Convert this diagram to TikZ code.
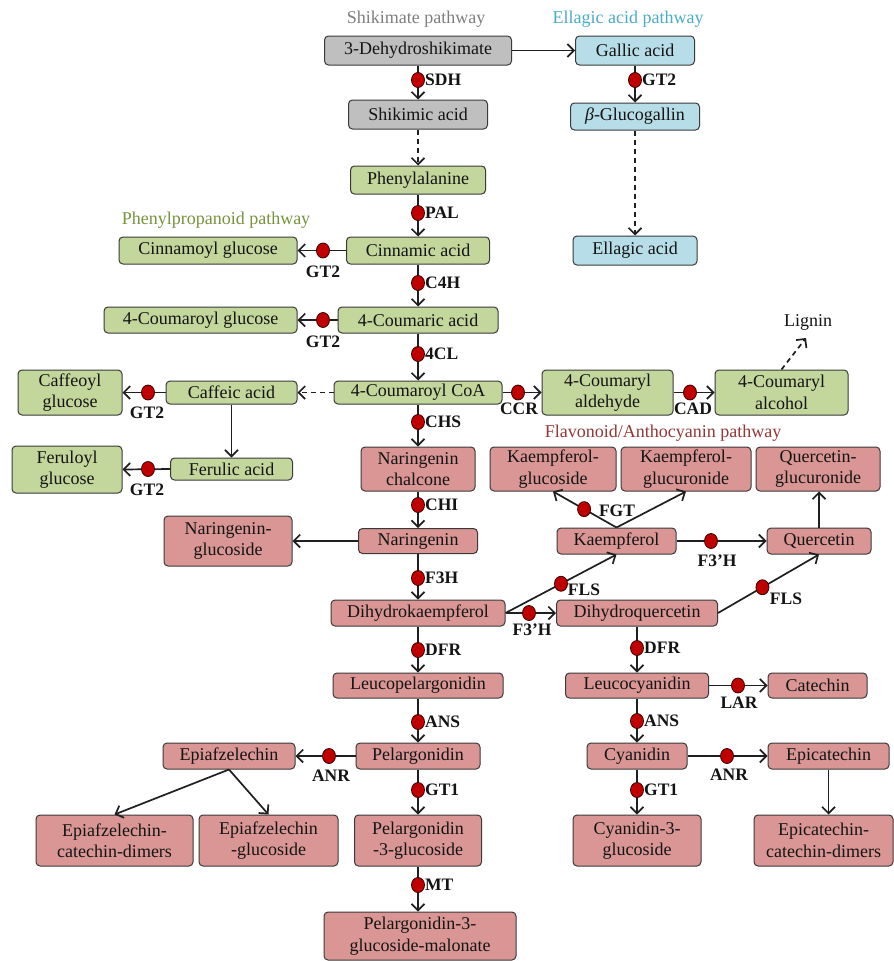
\documentclass[tikz,border=0pt]{standalone}
\usepackage{fontspec}
\setmainfont{Liberation Serif}
\usetikzlibrary{arrows.meta,shapes.geometric}
\definecolor{grayfill}{HTML}{BFBFBF}
\definecolor{bluefill}{HTML}{B7DEE8}
\definecolor{greenfill}{HTML}{C3D69B}
\definecolor{pinkfill}{HTML}{D99694}
\definecolor{boxline}{HTML}{3A3A3A}
\definecolor{titlegray}{HTML}{7F7F7F}
\definecolor{titleblue}{HTML}{4BACC6}
\definecolor{titlegreen}{HTML}{77933C}
\definecolor{titlered}{HTML}{953735}
\definecolor{dotred}{HTML}{C00000}
\definecolor{dotline}{HTML}{3A0000}
\begin{document}
\begin{tikzpicture}[x=1pt,y=-1pt,
  box/.style={draw=boxline, line width=1pt, rounded corners=4pt, inner sep=0pt, align=center,
    font=\fontsize{18}{21.5}\selectfont, text=black!92},
  gbox/.style={box, fill=grayfill},
  bbox/.style={box, fill=bluefill},
  grbox/.style={box, fill=greenfill},
  pbox/.style={box, fill=pinkfill},
  ttl/.style={font=\fontsize{18}{20}\selectfont, inner sep=0pt},
  lab/.style={font=\bfseries\fontsize{17.5}{18}\selectfont, inner sep=0pt, text=black!92},
  enz/.style={ellipse, draw=dotline, fill=dotred, line width=0.8pt, minimum width=13pt, minimum height=15pt, inner sep=0pt},
  arr/.style={line width=1.7pt, black!88, -{Straight Barb[length=6.5pt,width=13pt]}},
  darr/.style={arr, dash pattern=on 5pt off 4pt},
  ln/.style={line width=1.7pt, black!88}
]
\fill[white] (0,0) rectangle (894,961);
\useasboundingbox (0,0) rectangle (894,961);

% titles
\node[ttl, text=titlegray] (tshik) at (416,19) {Shikimate pathway};
\node[ttl, text=titleblue] (tella) at (628,19) {Ellagic acid pathway};
\node[ttl, text=titlegreen] (tphen) at (216,220) {Phenylpropanoid pathway};
\node[ttl, text=titlered] (tflav) at (663,433) {Flavonoid/Anthocyanin pathway};
\node[ttl, text=black!92] (lig) at (808,322) {Lignin};

% shikimate / ellagic
\node[gbox, minimum width=187pt, minimum height=29pt] (dhs) at (418,50.5) {3-Dehydroshikimate};
\node[gbox, minimum width=139pt, minimum height=29pt] (shik) at (418,114.5) {Shikimic acid};
\node[bbox, minimum width=119pt, minimum height=29pt] (gallic) at (635,50.5) {Gallic acid};
\node[bbox, minimum width=129pt, minimum height=27pt] (gluco) at (635,116.5) {\textit{β}-Glucogallin};
\node[bbox, minimum width=124pt, minimum height=29pt] (ellagic) at (635,250.5) {Ellagic acid};

% phenylpropanoid
\node[grbox, minimum width=135pt, minimum height=28pt] (phe) at (418,180) {Phenylalanine};
\node[grbox, minimum width=143pt, minimum height=27pt] (cin) at (418,250.5) {Cinnamic acid};
\node[grbox, minimum width=178pt, minimum height=27pt] (cing) at (208,250.5) {Cinnamoyl glucose};
\node[grbox, minimum width=160pt, minimum height=26pt] (cou) at (418,320) {4-Coumaric acid};
\node[grbox, minimum width=193pt, minimum height=26pt] (coug) at (200.5,320) {4-Coumaroyl glucose};
\node[grbox, minimum width=168pt, minimum height=23pt] (coa) at (418,392.5) {4-Coumaroyl CoA};
\node[grbox, minimum width=131pt, minimum height=23pt] (caf) at (231.5,392.5) {Caffeic acid};
\node[grbox, minimum width=104pt, minimum height=45pt] (cafg) at (70,392.5) {Caffeoyl\\glucose};
\node[grbox, minimum width=122pt, minimum height=22pt] (fer) at (231.5,469) {Ferulic acid};
\node[grbox, minimum width=110pt, minimum height=47pt] (ferg) at (67,469.5) {Feruloyl\\glucose};
\node[grbox, minimum width=131pt, minimum height=45pt] (ald) at (607.5,392.5) {4-Coumaryl\\aldehyde};
\node[grbox, minimum width=133pt, minimum height=45pt] (alc) at (781.5,392.5) {4-Coumaryl\\alcohol};

% flavonoid / anthocyanin
\node[pbox, minimum width=114pt, minimum height=44pt] (chal) at (418,469) {Naringenin\\chalcone};
\node[pbox, minimum width=126pt, minimum height=44pt] (kgs) at (553,469) {Kaempferol-\\glucoside};
\node[pbox, minimum width=130pt, minimum height=44pt] (kgr) at (686,469) {Kaempferol-\\glucuronide};
\node[pbox, minimum width=124pt, minimum height=44pt] (qgr) at (818,469) {Quercetin-\\glucuronide};
\node[pbox, minimum width=119pt, minimum height=25pt] (nar) at (418,541) {Naringenin};
\node[pbox, minimum width=128pt, minimum height=50pt] (narg) at (228,541) {Naringenin-\\glucoside};
\node[pbox, minimum width=119pt, minimum height=26pt] (kae) at (616.5,541) {Kaempferol};
\node[pbox, minimum width=104pt, minimum height=26pt] (que) at (819,541) {Quercetin};
\node[pbox, minimum width=174pt, minimum height=26pt] (dhk) at (418,613) {Dihydrokaempferol};
\node[pbox, minimum width=161pt, minimum height=26pt] (dhq) at (637,613) {Dihydroquercetin};
\node[pbox, minimum width=170pt, minimum height=25pt] (leup) at (418,685.5) {Leucopelargonidin};
\node[pbox, minimum width=143pt, minimum height=25pt] (leuc) at (637,685.5) {Leucocyanidin};
\node[pbox, minimum width=99pt, minimum height=25pt] (cat) at (817.5,685.5) {Catechin};
\node[pbox, minimum width=124pt, minimum height=26pt] (pel) at (418,756) {Pelargonidin};
\node[pbox, minimum width=132pt, minimum height=26pt] (epi) at (229,756) {Epiafzelechin};
\node[pbox, minimum width=100pt, minimum height=26pt] (cya) at (637,756) {Cyanidin};
\node[pbox, minimum width=121pt, minimum height=26pt] (epc) at (828.5,756) {Epicatechin};
\node[pbox, minimum width=127pt, minimum height=51pt] (pel3g) at (418,840.5) {Pelargonidin\\-3-glucoside};
\node[pbox, minimum width=157pt, minimum height=51pt] (epid) at (114.5,840.5) {Epiafzelechin-\\catechin-dimers};
\node[pbox, minimum width=139pt, minimum height=51pt] (epig) at (268.5,840.5) {Epiafzelechin\\-glucoside};
\node[pbox, minimum width=128pt, minimum height=51pt] (cya3g) at (637,840.5) {Cyanidin-3-\\glucoside};
\node[pbox, minimum width=139pt, minimum height=51pt] (epcd) at (823.5,840.5) {Epicatechin-\\catechin-dimers};
\node[pbox, minimum width=192pt, minimum height=48pt] (pelm) at (420,936) {Pelargonidin-3-\\glucoside-malonate};

% connectors
\draw[arr] (dhs.east) -- (gallic.west);
\draw[arr] (dhs.south) -- (shik.north);
\draw[arr] (gallic.south) -- (gluco.north);
\draw[darr] (shik.south) -- (phe.north);
\draw[darr] (gluco.south) -- (ellagic.north);
\draw[arr] (phe.south) -- (cin.north);
\draw[arr] (cin.west) -- (cing.east);
\draw[arr] (cin.south) -- (cou.north);
\draw[arr] (cou.west) -- (coug.east);
\draw[arr] (cou.south) -- (coa.north);
\draw[darr] (coa.west) -- (caf.east);
\draw[arr] (caf.west) -- (cafg.east);
\draw[arr] (caf.south) -- (fer.north);
\draw[arr] (fer.west) -- (ferg.east);
\draw[arr] (coa.east) -- (ald.west);
\draw[arr] (ald.east) -- (alc.west);
\coordinate (ligend) at (806,338);
\draw[darr] (alc.north) -- (ligend);
\draw[arr] (coa.south) -- (chal.north);
\draw[arr] (chal.south) -- (nar.north);
\draw[arr] (nar.west) -- (narg.east);
\draw[arr] (nar.south) -- (dhk.north);
\draw[arr] (dhk.east) -- (dhq.west);
\draw[arr] (dhk.east) -- node[enz, pos=0.5] (dFLS1) {} (kae.south);
\draw[arr] (kae.east) -- (que.west);
\draw[arr] (kae.north) -- node[enz, pos=0.51] (dFGT) {} (kgs.south);
\draw[arr] (kae.north) -- (kgr.south);
\draw[arr] (dhq.east) -- node[enz, pos=0.44] (dFLS2) {} (que.south);
\draw[arr] (que.north) -- (que.north |- qgr.south);
\draw[arr] (dhk.south) -- (leup.north);
\draw[arr] (dhq.south) -- (leuc.north);
\draw[arr] (leuc.east) -- (cat.west);
\draw[arr] (leup.south) -- (pel.north);
\draw[arr] (leuc.south) -- (cya.north);
\draw[arr] (pel.west) -- (epi.east);
\draw[arr] (cya.east) -- (epc.west);
\draw[arr] (pel.south) -- (pel3g.north);
\draw[arr] (cya.south) -- (cya3g.north);
\draw[arr] (pel3g.south) -- (pel3g.south |- pelm.north);
\draw[arr] (epi.south) -- (epid.north);
\draw[arr] (epi.south) -- (epig.north);
\draw[arr] (epc.south) -- (epc.south |- epcd.north);

% enzyme dots
\node[enz] (dSDH) at (418,80) {};
\node[enz] (dGT2a) at (635,80) {};
\node[enz] (dPAL) at (418,213) {};
\node[enz] (dGT2b) at (323,250.5) {};
\node[enz] (dC4H) at (418,283) {};
\node[enz] (dGT2c) at (323,320) {};
\node[enz] (d4CL) at (418,354) {};
\node[enz] (dGT2d) at (148,392.5) {};
\node[enz] (dGT2e) at (148,469) {};
\node[enz] (dCCR) at (518,392.5) {};
\node[enz] (dCAD) at (690,392.5) {};
\node[enz] (dCHS) at (418,422) {};
\node[enz] (dCHI) at (418,505) {};
\node[enz] (dF3Ha) at (711,541) {};
\node[enz] (dF3H) at (418,578) {};
\node[enz] (dF3Hb) at (529,613) {};
\node[enz] (dDFRa) at (418,650) {};
\node[enz] (dDFRb) at (637,648) {};
\node[enz] (dLAR) at (738,685.5) {};
\node[enz] (dANSa) at (418,722) {};
\node[enz] (dANSb) at (637,721) {};
\node[enz] (dANRa) at (329,756) {};
\node[enz] (dANRb) at (727,756) {};
\node[enz] (dGT1a) at (418,790) {};
\node[enz] (dGT1b) at (637,790) {};
\node[enz] (dMT) at (418,885) {};

% enzyme labels
\node[lab, anchor=west] (lSDH) at (425,80) {SDH};
\node[lab, anchor=west] (lGT2a) at (642,80) {GT2};
\node[lab, anchor=west] (lPAL) at (425,213) {PAL};
\node[lab] (lGT2b) at (323,272) {GT2};
\node[lab, anchor=west] (lC4H) at (425,283) {C4H};
\node[lab] (lGT2c) at (323,342) {GT2};
\node[lab, anchor=west] (l4CL) at (425,354) {4CL};
\node[lab] (lGT2d) at (147,413) {GT2};
\node[lab] (lGT2e) at (147,490) {GT2};
\node[lab] (lCCR) at (519,409) {CCR};
\node[lab] (lCAD) at (693,409) {CAD};
\node[lab, anchor=west] (lCHS) at (425,422) {CHS};
\node[lab, anchor=west] (lCHI) at (425,505) {CHI};
\node[lab] (lFGT) at (617,511) {FGT};
\node[lab] (lF3Ha) at (717,561) {F3’H};
\node[lab, anchor=west] (lF3H) at (425,578) {F3H};
\node[lab] (lFLS1) at (584,590) {FLS};
\node[lab] (lF3Hb) at (532,630) {F3’H};
\node[lab] (lFLS2) at (786,599) {FLS};
\node[lab, anchor=west] (lDFRa) at (425,650) {DFR};
\node[lab, anchor=west] (lDFRb) at (644,648) {DFR};
\node[lab] (lLAR) at (739,703) {LAR};
\node[lab, anchor=west] (lANSa) at (425,722) {ANS};
\node[lab, anchor=west] (lANSb) at (644,721) {ANS};
\node[lab] (lANRa) at (331,776) {ANR};
\node[lab] (lANRb) at (729,775) {ANR};
\node[lab, anchor=west] (lGT1a) at (425,790) {GT1};
\node[lab, anchor=west] (lGT1b) at (644,790) {GT1};
\node[lab, anchor=west] (lMT) at (425,885) {MT};
\end{tikzpicture}
\end{document}
